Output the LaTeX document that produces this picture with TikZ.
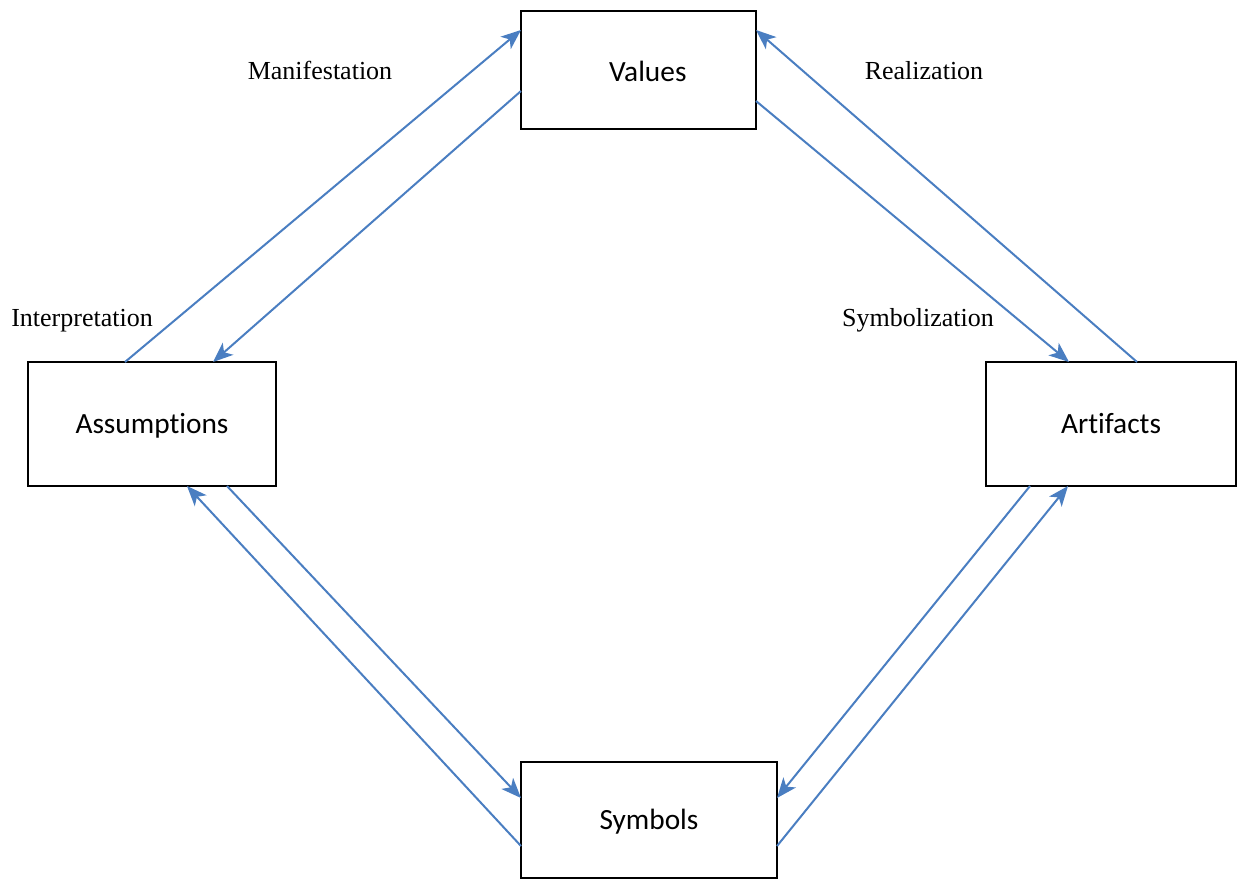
\documentclass[tikz,border=0pt]{standalone}
\usepackage{fontspec}
\setmainfont{Liberation Serif}
\newfontfamily\boxfont[Ligatures=NoCommon]{Carlito}
\usetikzlibrary{arrows.meta,calc}
\definecolor{arrowblue}{RGB}{74,126,193}
\tikzset{
  box/.style={draw=black, line width=1.3pt, inner sep=0pt, outer sep=0pt,
    font=\boxfont\fontsize{22pt}{26pt}\selectfont, text height=14.2pt, text depth=0pt},
  lbl/.style={font=\fontsize{19.5pt}{22pt}\selectfont, anchor=base, inner sep=0pt},
  conn/.style={draw=arrowblue, line width=1.5pt, -{Stealth[length=15pt,width=12pt,inset=4pt]}}
}
\begin{document}
\begin{tikzpicture}[x=0.75pt,y=-0.75pt]
\useasboundingbox (0,0) rectangle (1237,882);
\node[box, minimum width=176.25pt, minimum height=88.5pt] (vals) at (638.5,70) {\hspace*{14pt}\raisebox{-1.5pt}{Values}};
\node[box, minimum width=186pt, minimum height=93pt] (assm) at (152,424) {Assumptions};
\node[box, minimum width=187.5pt, minimum height=93pt] (arti) at (1111,424) {Artifacts};
\node[box, minimum width=192pt, minimum height=87pt] (symb) at (649,820) {Symbols};

\node[lbl] (lman) at (320,79) {Manifestation};
\node[lbl] (lrea) at (924,79) {Realization};
\node[lbl] (lint) at (82,326) {Interpretation};
\node[lbl] (lsym) at (918,326) {Symbolization};

\draw[conn] ($(assm.north west)+(97,0)$) -- ($(vals.north west)+(0,19)$);
\draw[conn] ($(vals.north west)+(0,80)$) -- ($(assm.north west)+(185,0)$);
\draw[conn] ($(vals.north east)+(0,90)$) -- ($(arti.north west)+(83,0)$);
\draw[conn] ($(arti.north west)+(151,0)$) -- ($(vals.north east)+(0,19)$);
\draw[conn] ($(assm.south west)+(199,0)$) -- ($(symb.north west)+(0,36)$);
\draw[conn] ($(symb.north west)+(0,84)$) -- ($(assm.south west)+(159,0)$);
\draw[conn] ($(arti.south west)+(44,0)$) -- ($(symb.north east)+(0,36)$);
\draw[conn] ($(symb.north east)+(0,84)$) -- ($(arti.south west)+(82,0)$);
\end{tikzpicture}
\end{document}
